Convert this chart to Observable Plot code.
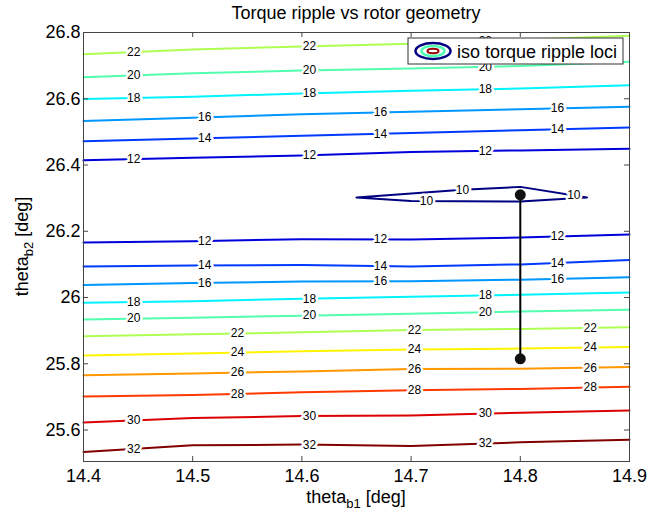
<!DOCTYPE html>
<html><head><meta charset="utf-8">
<script src="https://cdn.jsdelivr.net/npm/d3@7"></script>
<script src="https://cdn.jsdelivr.net/npm/@observablehq/plot@0.6"></script>
<style>body{margin:0;background:#fff} svg{display:block}</style>
</head><body><div id="chart"></div>
<script>
// ---- data ----
const gridX = [14.4, 14.5, 14.6, 14.7, 14.8, 14.9];
const xTicks = [14.4, 14.5, 14.6, 14.7, 14.8, 14.9];
const yTicks = [25.6, 25.8, 26, 26.2, 26.4, 26.6, 26.8];

// upper family (above the 10 locus)
const y22a = [26.734, 26.749, 26.758, 26.766, 26.778, 26.790];
const y20a = [26.665, 26.677, 26.685, 26.691, 26.699, 26.712];
const y18a = [26.599, 26.606, 26.616, 26.624, 26.631, 26.641];
const y16a = [26.533, 26.543, 26.553, 26.561, 26.568, 26.576];
const y14a = [26.472, 26.480, 26.488, 26.497, 26.505, 26.513];
const y12a = [26.414, 26.422, 26.429, 26.439, 26.444, 26.449];
// lower family
const y12b = [26.166, 26.170, 26.176, 26.175, 26.181, 26.190];
const y14b = [26.094, 26.097, 26.098, 26.094, 26.100, 26.113];
const y16b = [26.038, 26.044, 26.048, 26.049, 26.054, 26.061];
const y18b = [25.984, 25.989, 25.996, 26.002, 26.008, 26.015];
const y20b = [25.934, 25.939, 25.945, 25.951, 25.958, 25.963];
const y22b = [25.883, 25.889, 25.895, 25.902, 25.905, 25.910];
const y24  = [25.825, 25.831, 25.838, 25.843, 25.846, 25.851];
const y26  = [25.765, 25.771, 25.777, 25.784, 25.785, 25.790];
const y28  = [25.701, 25.706, 25.714, 25.720, 25.724, 25.731];
const y30  = [25.623, 25.636, 25.642, 25.644, 25.652, 25.659];
const y32  = [25.534, 25.554, 25.556, 25.552, 25.563, 25.571];

// closed 10 locus
const loopUpperX = [14.650, 14.747, 14.800, 14.861];
const loopUpperY = [26.302, 26.325, 26.334, 26.302];
const loopLowerX = [14.650, 14.700, 14.800, 14.861];
const loopLowerY = [26.302, 26.291, 26.290, 26.302];

// label x positions
const labelsA = [14.446, 14.607, 14.768];
const labelsB = [14.511, 14.672, 14.834];
const labelsC = [14.541, 14.703, 14.864];
const loopLabelUpper = [14.747, 14.849];
const loopLabelLower = [14.714];

// black segment between two designs
const segX = [14.8, 14.8];
const segY = [25.815, 26.310];

// ---- build tables ----
const contours = [
  {id:"22a", level:22, ys:y22a, lx:labelsA},
  {id:"20a", level:20, ys:y20a, lx:labelsA},
  {id:"18a", level:18, ys:y18a, lx:labelsA},
  {id:"16a", level:16, ys:y16a, lx:labelsB},
  {id:"14a", level:14, ys:y14a, lx:labelsB},
  {id:"12a", level:12, ys:y12a, lx:labelsA},
  {id:"12b", level:12, ys:y12b, lx:labelsB},
  {id:"14b", level:14, ys:y14b, lx:labelsB},
  {id:"16b", level:16, ys:y16b, lx:labelsB},
  {id:"18b", level:18, ys:y18b, lx:labelsA},
  {id:"20b", level:20, ys:y20b, lx:labelsA},
  {id:"22b", level:22, ys:y22b, lx:labelsC},
  {id:"24",  level:24, ys:y24,  lx:labelsC},
  {id:"26",  level:26, ys:y26,  lx:labelsC},
  {id:"28",  level:28, ys:y28,  lx:labelsC},
  {id:"30",  level:30, ys:y30,  lx:labelsA},
  {id:"32",  level:32, ys:y32,  lx:labelsA}
];
const interp = (xs, ys, x) => {
  for (let i = 0; i < xs.length - 1; i++) {
    if (x >= xs[i] && x <= xs[i+1]) {
      const t = (x - xs[i]) / (xs[i+1] - xs[i]);
      return ys[i] + t * (ys[i+1] - ys[i]);
    }
  }
  return ys[ys.length - 1];
};
const lineRows = [];
const labelRows = [];
for (const c of contours) {
  gridX.forEach((x, i) => lineRows.push({id: c.id, level: c.level, x, y: c.ys[i]}));
  c.lx.forEach(x => labelRows.push({level: c.level, x, y: interp(gridX, c.ys, x)}));
}
loopUpperX.forEach((x, i) => lineRows.push({id: "10", level: 10, x, y: loopUpperY[i]}));
for (let i = loopLowerX.length - 1; i >= 0; i--) lineRows.push({id: "10", level: 10, x: loopLowerX[i], y: loopLowerY[i]});
loopLabelUpper.forEach(x => labelRows.push({level: 10, x, y: interp(loopUpperX, loopUpperY, x)}));
loopLabelLower.forEach(x => labelRows.push({level: 10, x, y: interp(loopLowerX, loopLowerY, x)}));
const segRows = segX.map((x, i) => ({x, y: segY[i]}));

const jet = t => {
  const c = v => Math.round(255 * Math.max(0, Math.min(1, v)));
  return `rgb(${c(1.5 - Math.abs(4*t - 3))},${c(1.5 - Math.abs(4*t - 2))},${c(1.5 - Math.abs(4*t - 1))})`;
};

const W = 661, H = 512, ML = 83, MR = 32, MT = 32, MB = 51;
const FW = W - ML - MR, FH = H - MT - MB;
const font = "'Liberation Sans', Arial, Helvetica, sans-serif";
const fmt = d => String(+d.toFixed(2));

const plot = Plot.plot({
  width: W, height: H,
  marginLeft: ML, marginRight: MR, marginTop: MT, marginBottom: MB,
  style: {fontFamily: font, background: "#fff", color: "#000", overflow: "visible"},
  x: {domain: [14.4, 14.9]},
  y: {domain: [25.505, 26.8]},
  color: {type: "linear", domain: [10, 32], interpolate: jet},
  marks: [
    Plot.line(lineRows, {x: "x", y: "y", z: "id", stroke: "level", strokeWidth: 2, curve: "linear"}),
    Plot.text(labelRows, {x: "x", y: "y", text: d => String(d.level), fontSize: 12, fill: "#000",
      stroke: "#fff", strokeWidth: 5, paintOrder: "stroke"}),
    Plot.line(segRows, {x: "x", y: "y", stroke: "#000", strokeWidth: 2}),
    Plot.dot(segRows, {x: "x", y: "y", r: 5.5, fill: "#111", stroke: "none"}),
    Plot.tickX(xTicks, {x: d => d, stroke: "#444", insetTop: FH - 5}),
    Plot.tickX(xTicks, {x: d => d, stroke: "#444", insetBottom: FH - 5}),
    Plot.tickY(yTicks, {y: d => d, stroke: "#444", insetRight: FW - 5}),
    Plot.tickY(yTicks, {y: d => d, stroke: "#444", insetLeft: FW - 5}),
    Plot.axisX(xTicks, {anchor: "bottom", tickSize: 0, tickPadding: 8, fontSize: 18, tickFormat: fmt, label: null}),
    Plot.axisY(yTicks, {anchor: "left", tickSize: 0, tickPadding: 3, fontSize: 18, tickFormat: fmt, label: null}),
    Plot.frame({stroke: "#444", strokeWidth: 1})
  ]
});

const svg = d3.select(plot);
// title
svg.append("text").attr("x", ML + FW/2).attr("y", 19).attr("text-anchor", "middle")
  .attr("font-size", 18).attr("font-family", font).attr("fill", "#000").text("Torque ripple vs rotor geometry");
// x label
const xl = svg.append("text").attr("x", ML + FW/2).attr("y", 503).attr("text-anchor", "middle")
  .attr("font-size", 18).attr("font-family", font).attr("fill", "#000");
xl.append("tspan").text("theta");
xl.append("tspan").attr("dy", 5).attr("font-size", 13).text("b1");
xl.append("tspan").attr("dy", -5).text(" [deg]");
// y label
const yl = svg.append("text").attr("transform", `translate(28,${MT + FH/2}) rotate(-90)`).attr("text-anchor", "middle")
  .attr("font-size", 18).attr("font-family", font).attr("fill", "#000");
yl.append("tspan").text("theta");
yl.append("tspan").attr("dy", 5).attr("font-size", 13).text("b2");
yl.append("tspan").attr("dy", -5).text(" [deg]");
// legend
const lg = svg.append("g");
lg.append("rect").attr("x", 408).attr("y", 38).attr("width", 215).attr("height", 26)
  .attr("fill", "#fff").attr("stroke", "#333").attr("stroke-width", 1);
lg.append("ellipse").attr("cx", 433).attr("cy", 51).attr("rx", 17.5).attr("ry", 8).attr("fill", "none").attr("stroke", jet(0)).attr("stroke-width", 2.5);
lg.append("ellipse").attr("cx", 433).attr("cy", 51).attr("rx", 11.5).attr("ry", 5).attr("fill", "none").attr("stroke", jet(0.45)).attr("stroke-width", 2.5);
lg.append("ellipse").attr("cx", 433).attr("cy", 51).attr("rx", 5.5).attr("ry", 2.2).attr("fill", "none").attr("stroke", jet(0.97)).attr("stroke-width", 2);
lg.append("text").attr("x", 457).attr("y", 58).attr("text-anchor", "start").attr("font-size", 18)
  .attr("font-family", font).attr("fill", "#000").text("iso torque ripple loci");

document.getElementById("chart").appendChild(plot);
</script>
</body></html>
